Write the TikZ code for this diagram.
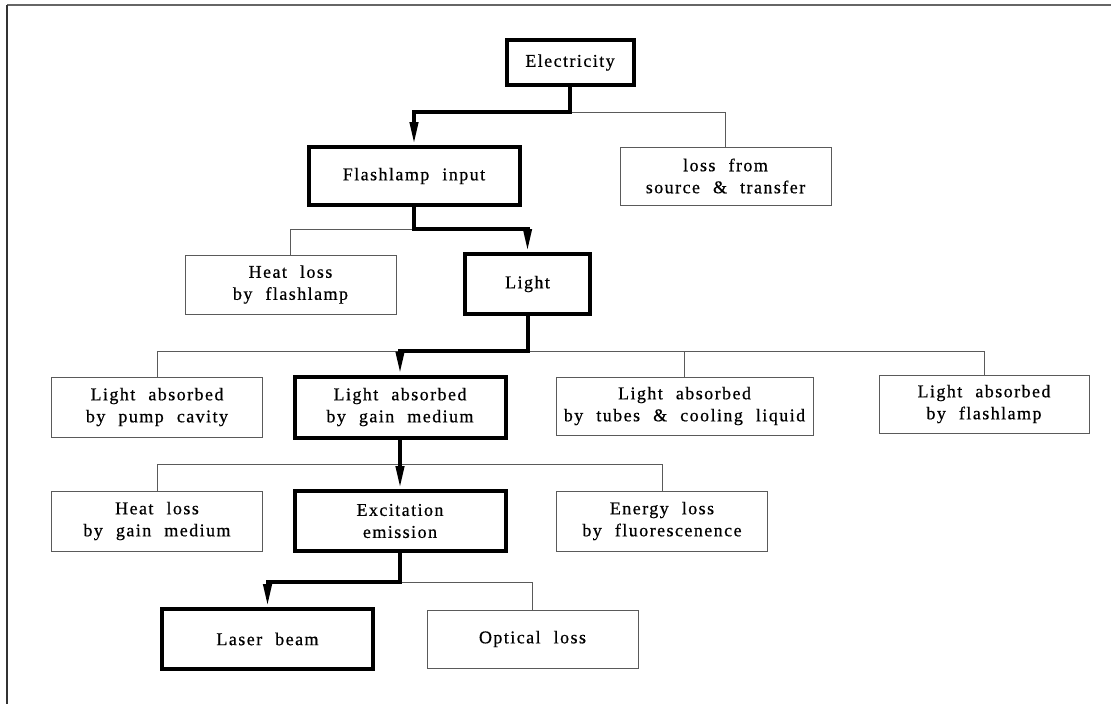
\documentclass[tikz,border=0pt]{standalone}
\usepackage{fontspec}
\setmainfont{Liberation Serif}[LetterSpace=8,WordSpace=2.2,FakeBold=0.6]
\usepackage{tikz}
\usetikzlibrary{arrows.meta,positioning}
\definecolor{thinline}{RGB}{90,90,90}

\begin{document}
\begin{tikzpicture}[x=1pt, y=-1pt,
  box/.style={draw=thinline, line width=1pt, fill=white, minimum width=211pt, minimum height=59pt,
              align=center, inner sep=2pt, font=\fontsize{18}{22}\selectfont},
  mainbox/.style={box, draw=black, line width=4pt},
  flow/.style={-{Triangle[length=23pt,width=8pt]}, line width=4pt, black},
  leak/.style={thinline, line width=1pt}]
  % frame
  \useasboundingbox (0,0) rectangle (1111,704);
  \draw[black!60, line width=2pt] (7,5) -- (1111,5);
  \draw[black!80, line width=1.5pt] (7,5) -- (7,704);
  % energy path
  \node[mainbox, minimum width=127pt, minimum height=45pt] (elec) at (570,62.5) {Electricity};
  \node[mainbox, minimum height=58pt] (flash) at (414,176) {Flashlamp input};
  \node[mainbox, minimum width=125pt, minimum height=60pt] (light) at (527.5,284) {Light};
  \node[mainbox, minimum height=61pt] (gain) at (400,407) {Light absorbed\\ by gain medium};
  \node[mainbox, minimum height=60pt] (excit) at (400,521) {Excitation\\ emission};
  \node[mainbox, minimum height=60pt] (laser) at (267.5,639) {Laser beam};
  % losses
  \node[box, minimum height=58pt] (srcloss) at (725.5,176) {loss from\\ source \& transfer};
  \node[box] (heatlamp) at (290.5,284.5) {Heat loss\\ by flashlamp};
  \node[box, minimum height=60pt] (pumpcav) at (157,407) {Light absorbed\\ by pump cavity};
  \node[box, minimum width=257pt, minimum height=58pt] (tubes) at (684.5,406) {Light absorbed\\ by tubes \& cooling liquid};
  \node[box, minimum width=210pt, minimum height=58pt] (lampabs) at (984,404) {Light absorbed\\ by flashlamp};
  \node[box, minimum height=60pt] (heatgain) at (157,521) {Heat loss\\ by gain medium};
  \node[box, minimum height=60pt] (fluor) at (662,521) {Energy loss\\ by fluorescenence};
  \node[box, minimum height=58pt] (optloss) at (532.5,639) {Optical loss};
  % junctions
  \coordinate (j1) at (elec.south |- 0,112);
  \coordinate (j2) at (flash.south |- 0,229);
  \coordinate (j3) at (light.south |- 0,351);
  \coordinate (j4) at (gain.south |- 0,464);
  \coordinate (j5) at (excit.south |- 0,582);
  % loss branches
  \draw[leak] (j1) -| (srcloss.north);
  \draw[leak] (j2) -| (heatlamp.north);
  \draw[leak] (j3) -| (pumpcav.north);
  \draw[leak] (j3) -| (tubes.north);
  \draw[leak] (j3) -| (lampabs.north);
  \draw[leak] (j4) -| (heatgain.north);
  \draw[leak] (j4) -| (fluor.north);
  \draw[leak] (j5) -| (optloss.north);
  % main branches
  \draw[flow] (elec.south) -- (j1) -| (flash.north);
  \draw[flow] (flash.south) -- (j2) -| (light.north);
  \draw[flow] (light.south) -- (j3) -| (gain.north);
  \draw[flow] (gain.south) -- (excit.north);
  \draw[flow] (excit.south) -- (j5) -| (laser.north);
\end{tikzpicture}
\end{document}
